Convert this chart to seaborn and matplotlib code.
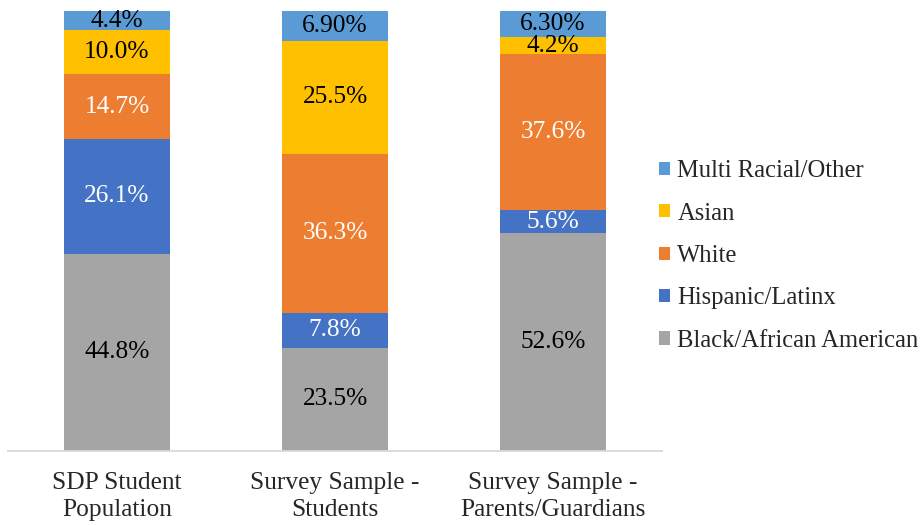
import numpy as np
import pandas as pd
import matplotlib
matplotlib.use("Agg")
import matplotlib.pyplot as plt
import seaborn as sns
from matplotlib.patches import Patch

categories = ["SDP Student\nPopulation", "Survey Sample -\nStudents", "Survey Sample -\nParents/Guardians"]
groups = ["Black/African American", "Hispanic/Latinx", "White", "Asian", "Multi Racial/Other"]
black = [44.8, 23.5, 52.6]
hispanic = [26.1, 7.8, 5.6]
white = [14.7, 36.3, 37.6]
asian = [10.0, 25.5, 4.2]
multi = [4.4, 6.9, 6.3]
labels_black = ["44.8%", "23.5%", "52.6%"]
labels_hispanic = ["26.1%", "7.8%", "5.6%"]
labels_white = ["14.7%", "36.3%", "37.6%"]
labels_asian = ["10.0%", "25.5%", "4.2%"]
labels_multi = ["4.4%", "6.90%", "6.30%"]

colors = ["#A5A5A5", "#4472C4", "#ED7D31", "#FFC000", "#5B9BD5"]
text_colors = ["black", "white", "white", "black", "black"]

sns.set_style("white")
plt.rcParams["font.family"] = ["Liberation Serif", "DejaVu Serif"]
FS = 18.3
LFS = 17.7

series = np.array([black, hispanic, white, asian, multi])
labels = [labels_black, labels_hispanic, labels_white, labels_asian, labels_multi]
shares = series / series.sum(axis=0) * 100
cum = np.cumsum(shares, axis=0)

fig = plt.figure(figsize=(9.24, 5.25), dpi=100)
ax = fig.add_axes([8 / 924, 74 / 525, 654 / 924, 440 / 525])

for k in range(len(groups) - 1, -1, -1):
    df = pd.DataFrame({"cat": categories, "val": cum[k]})
    sns.barplot(data=df, x="cat", y="val", order=categories, color=colors[k],
                saturation=1, width=0.486, ax=ax, linewidth=0)

for k in range(len(groups)):
    for i in range(len(categories)):
        mid = cum[k][i] - shares[k][i] / 2
        ax.text(i, mid, labels[k][i], ha="center", va="center",
                fontsize=FS, color=text_colors[k])

ax.set_ylim(0, 100)
ax.set_xlim(-0.5, 2.5)
ax.set_xlabel("")
ax.set_ylabel("")
ax.set_yticks([])
for s in ["top", "right", "left"]:
    ax.spines[s].set_visible(False)
ax.spines["bottom"].set_color("#D9D9D9")
ax.spines["bottom"].set_linewidth(1.3)
ax.tick_params(axis="x", length=0, pad=15, labelsize=FS)
for t in ax.get_xticklabels():
    t.set_linespacing(1.3)

handles = [Patch(facecolor=colors[k], edgecolor="none", label=groups[k]) for k in range(len(groups) - 1, -1, -1)]
fig.legend(handles=handles, loc="center left", bbox_to_anchor=(659 / 924, (525 - 256) / 525),
           frameon=False, fontsize=LFS, handlelength=0.45, handleheight=0.45,
           handletextpad=0.3, labelspacing=0.83, borderpad=0, borderaxespad=0)

fig.savefig("out.png", dpi=100)
